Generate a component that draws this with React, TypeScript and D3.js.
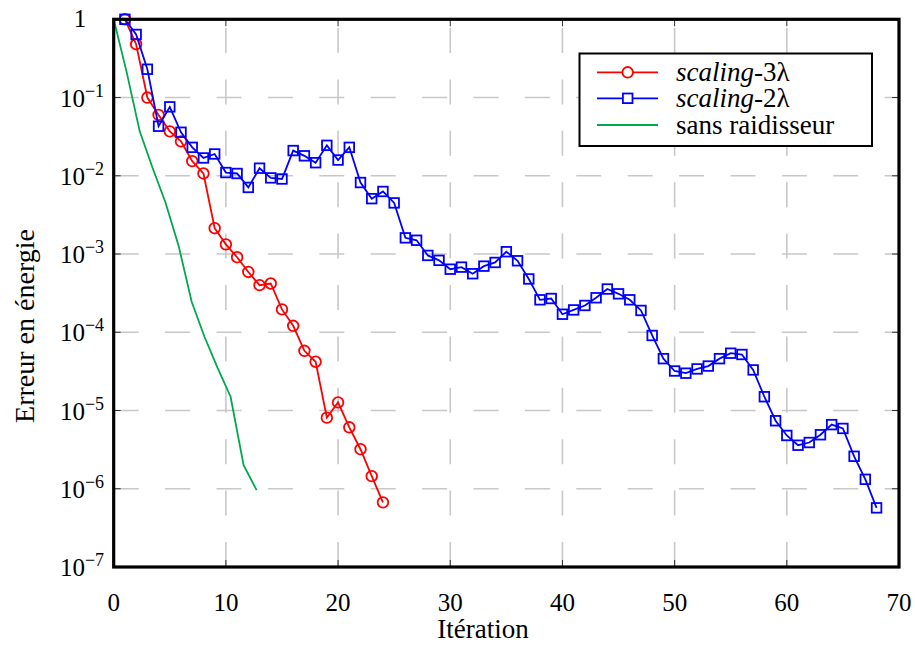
import React from 'react';
import * as d3 from 'd3';

const redValues = [1, 0.48, 0.10, 0.060, 0.037, 0.0275, 0.0154, 0.0107, 0.00214, 0.00133, 0.00091, 0.00059, 0.00040, 0.00042, 0.000196, 0.000121, 5.8e-5, 4.2e-5, 8.1e-6, 1.27e-5, 6.1e-6, 3.2e-6, 1.45e-6, 6.7e-7];

const blueValues = [1, 0.64, 0.23, 0.043, 0.076, 0.036, 0.0231, 0.0169, 0.019, 0.011,
  0.0107, 0.0071, 0.0125, 0.0094, 0.0091, 0.021, 0.018, 0.0147, 0.0245, 0.0159,
  0.0231, 0.0082, 0.0051, 0.0063, 0.0045, 0.00161, 0.0015, 0.00096, 0.00083, 0.00064,
  0.00068, 0.00056, 0.00070, 0.00078, 0.00107, 0.00082, 0.00048, 0.00026, 0.00027, 0.00017,
  0.000193, 0.00022, 0.000276, 0.000357, 0.00031, 0.00026, 0.00019, 9.1e-5, 4.6e-5, 3.2e-5,
  3.0e-5, 3.4e-5, 3.7e-5, 4.6e-5, 5.4e-5, 5.2e-5, 3.3e-5, 1.5e-5, 7.4e-6, 4.8e-6,
  3.6e-6, 3.9e-6, 4.9e-6, 6.6e-6, 5.9e-6, 2.6e-6, 1.32e-6, 5.7e-7];

const greenX = [0, 1.16, 2.32, 3.47, 4.63, 5.79, 6.95, 8.1, 9.26, 10.42, 11.58, 12.74];
const greenValues = [1, 0.21, 0.037, 0.0126, 0.0045, 0.00127, 2.45e-4, 8.7e-5, 3.5e-5, 1.5e-5, 2.0e-6, 9.6e-7];

const xTicks = [0, 10, 20, 30, 40, 50, 60, 70];
const yExponents = [0, -1, -2, -3, -4, -5, -6, -7];

const RED = '#ff0000';
const BLUE = '#0000ff';
const GREEN = '#00a84f';
const SERIF = { fontFamily: "'Liberation Serif', 'DejaVu Serif', serif" };

export default function App() {
  const left = 113.7, right = 899, top = 19.3, bottom = 567;
  const x = d3.scaleLinear().domain([0, 70]).range([left, right]);
  const y = d3.scaleLog().domain([1e-7, 1]).range([bottom, top]);

  const redPts: [number, number][] = redValues.map((v, i) => [i + 1, v]);
  const bluePts: [number, number][] = blueValues.map((v, i) => [i + 1, v]);
  const greenPts: [number, number][] = greenValues.map((v, i) => [greenX[i], v]);

  const line = d3.line<[number, number]>().x(d => x(d[0])).y(d => y(d[1]));

  const gridStyle = { stroke: '#c8c8c8', strokeWidth: 1.6, strokeDasharray: '25 26.4', fill: 'none' };

  return (
    <svg width={915} height={645} style={{ position: 'absolute', left: 0, top: 0, background: '#fff' }}>
      <rect x={0} y={0} width={915} height={645} fill="#fff" />
      {/* grid */}
      {yExponents.filter(e => e < 0 && e > -7).map(e => (
        <line key={'gy' + e} x1={left} x2={right} y1={y(Math.pow(10, e))} y2={y(Math.pow(10, e))} style={gridStyle} />
      ))}
      {xTicks.filter(t => t > 0 && t < 70).map(t => (
        <line key={'gx' + t} x1={x(t)} x2={x(t)} y1={bottom} y2={top} style={gridStyle} />
      ))}
      {/* ticks */}
      {xTicks.filter(t => t > 0 && t < 70).map(t => (
        <g key={'tx' + t} stroke="#333" strokeWidth={1}>
          <line x1={x(t)} x2={x(t)} y1={bottom} y2={bottom - 7} />
          <line x1={x(t)} x2={x(t)} y1={top} y2={top + 7} />
        </g>
      ))}
      {yExponents.filter(e => e < 0 && e > -7).map(e => (
        <g key={'ty' + e} stroke="#333" strokeWidth={1}>
          <line x1={left} x2={left + 7} y1={y(Math.pow(10, e))} y2={y(Math.pow(10, e))} />
          <line x1={right} x2={right - 7} y1={y(Math.pow(10, e))} y2={y(Math.pow(10, e))} />
        </g>
      ))}
      {/* series */}
      <path d={line(greenPts) || ''} fill="none" stroke={GREEN} strokeWidth={1.8} />
      <path d={line(redPts) || ''} fill="none" stroke={RED} strokeWidth={1.8} />
      {redPts.map((p, i) => (
        <circle key={'rc' + i} cx={x(p[0])} cy={y(p[1])} r={5.3} fill="none" stroke={RED} strokeWidth={1.8} />
      ))}
      <path d={line(bluePts) || ''} fill="none" stroke={BLUE} strokeWidth={1.8} />
      {bluePts.map((p, i) => (
        <rect key={'bs' + i} x={x(p[0]) - 4.8} y={y(p[1]) - 4.8} width={9.6} height={9.6} fill="none" stroke={BLUE} strokeWidth={1.8} />
      ))}
      {/* frame */}
      <rect x={left} y={top} width={right - left} height={bottom - top} fill="none" stroke="#000" strokeWidth={3.2} />
      {/* x tick labels */}
      {xTicks.map(t => (
        <text key={'xl' + t} x={x(t)} y={611} textAnchor="middle" fontSize={25} fill="#000" style={SERIF}>{t}</text>
      ))}
      {/* y tick labels */}
      {yExponents.map(e => (
        e === 0 ? (
          <text key={'yl' + e} x={80} y={y(1) + 8} textAnchor="middle" fontSize={25} fill="#000" style={SERIF}>1</text>
        ) : (
          <text key={'yl' + e} x={82} y={y(Math.pow(10, e)) + 9} textAnchor="middle" fontSize={25} fill="#000" style={SERIF}>
            10<tspan dy={-10} fontSize={18}>{'\u2212' + Math.abs(e)}</tspan>
          </text>
        )
      ))}
      {/* axis titles */}
      <text x={483} y={638} textAnchor="middle" fontSize={27} fill="#000" style={SERIF}>Itération</text>
      <text transform={`translate(34, 326) rotate(-90)`} textAnchor="middle" fontSize={28} fill="#000" style={SERIF}>Erreur en énergie</text>
      {/* legend */}
      <g>
        <rect x={579.5} y={53.5} width={292.5} height={92.5} fill="#fff" stroke="#000" strokeWidth={2} />
        <line x1={597} x2={658} y1={72.3} y2={72.3} stroke={RED} strokeWidth={1.8} />
        <circle cx={627.7} cy={72.3} r={5.3} fill="#fff" stroke={RED} strokeWidth={1.8} />
        <text x={676} y={81} fontSize={27} fill="#000" style={SERIF}><tspan fontStyle="italic">scaling</tspan>-3λ</text>
        <line x1={597} x2={658} y1={98.3} y2={98.3} stroke={BLUE} strokeWidth={1.8} />
        <rect x={627.7 - 4.8} y={98.3 - 4.8} width={9.6} height={9.6} fill="#fff" stroke={BLUE} strokeWidth={1.8} />
        <text x={676} y={107} fontSize={27} fill="#000" style={SERIF}><tspan fontStyle="italic">scaling</tspan>-2λ</text>
        <line x1={597} x2={658} y1={125} y2={125} stroke={GREEN} strokeWidth={1.8} />
        <text x={676} y={134} fontSize={27} fill="#000" style={SERIF}>sans raidisseur</text>
      </g>
    </svg>
  );
}
